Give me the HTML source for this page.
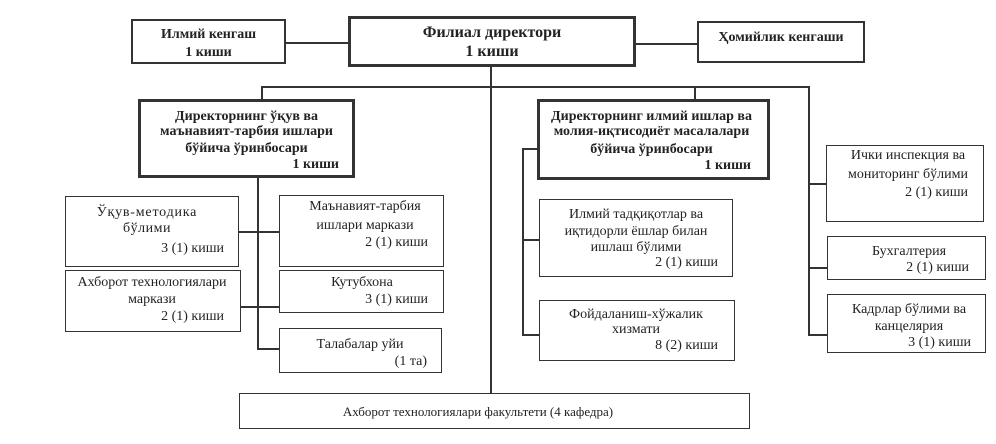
<!DOCTYPE html>
<html><head><meta charset="utf-8">
<style>
html,body{margin:0;padding:0}
body{width:996px;height:444px;background:#fff;position:relative;overflow:hidden;font-family:"Liberation Serif","DejaVu Serif",serif;color:#222}
.b{position:absolute;box-sizing:border-box;border:1.5px solid #333;background:#fff}
.t{position:absolute;line-height:16px;height:16px;white-space:nowrap;font-size:14px;text-align:center}
.r{text-align:right}
.bd{font-weight:bold}
.h{position:absolute;height:1.5px;background:#333}
.v{position:absolute;width:1.5px;background:#333}
</style></head><body>

<!-- connectors -->
<div class="h" style="left:286px;top:42px;width:62px"></div>
<div class="h" style="left:636px;top:43px;width:61px"></div>
<div class="v" style="left:490px;top:67px;height:326px"></div>
<div class="h" style="left:261px;top:86px;width:549px"></div>
<div class="v" style="left:261px;top:86px;height:13px"></div>
<div class="v" style="left:694px;top:86px;height:13px"></div>
<div class="v" style="left:808px;top:86px;height:250px"></div>
<div class="h" style="left:808px;top:183px;width:18px"></div>
<div class="h" style="left:808px;top:267px;width:19px"></div>
<div class="h" style="left:808px;top:334px;width:19px"></div>
<div class="v" style="left:522px;top:148px;height:188px"></div>
<div class="h" style="left:522px;top:148px;width:15px"></div>
<div class="h" style="left:522px;top:239px;width:17px"></div>
<div class="h" style="left:522px;top:334px;width:17px"></div>
<div class="v" style="left:257px;top:178px;height:172px"></div>
<div class="h" style="left:239px;top:231px;width:40px"></div>
<div class="h" style="left:241px;top:306px;width:38px"></div>
<div class="h" style="left:257px;top:348px;width:22px"></div>

<!-- top row -->
<div class="b" style="left:131px;top:19px;width:155px;height:45px;border-width:2px"></div>
<div class="t bd" style="left:131px;width:155px;top:27px">Илмий кенгаш</div>
<div class="t bd" style="left:131px;width:155px;top:45px">1 киши</div>

<div class="b" style="left:348px;top:16px;width:288px;height:51px;border-width:3px"></div>
<div class="t bd" style="left:348px;width:288px;top:25px;font-size:16px">Филиал директори</div>
<div class="t bd" style="left:348px;width:288px;top:44px;font-size:16px">1 киши</div>

<div class="b" style="left:697px;top:21px;width:168px;height:42px;border-width:2.5px"></div>
<div class="t bd" style="left:697px;width:168px;top:30px">Ҳомийлик кенгаши</div>

<!-- deputies -->
<div class="b" style="left:138px;top:99px;width:217px;height:79px;border-width:3px"></div>
<div class="t bd" style="left:138px;width:217px;top:109px">Директорнинг ўқув ва</div>
<div class="t bd" style="left:138px;width:217px;top:124px">маънавият-тарбия ишлари</div>
<div class="t bd" style="left:138px;width:217px;top:141px">бўйича ўринбосари</div>
<div class="t bd r" style="left:138px;width:201px;top:157px">1 киши</div>

<div class="b" style="left:537px;top:99px;width:233px;height:81px;border-width:3px"></div>
<div class="t bd" style="left:537px;width:229px;top:109px">Директорнинг илмий ишлар ва</div>
<div class="t bd" style="left:537px;width:229px;top:124px">молия-иқтисодиёт масалалари</div>
<div class="t bd" style="left:537px;width:229px;top:142px">бўйича ўринбосари</div>
<div class="t bd r" style="left:537px;width:214px;top:158px">1 киши</div>

<!-- right column -->
<div class="b" style="left:826px;top:145px;width:158px;height:77px"></div>
<div class="t" style="left:826px;width:164px;top:148px">Ички инспекция ва</div>
<div class="t" style="left:826px;width:164px;top:167px">мониторинг бўлими</div>
<div class="t r" style="left:826px;width:142px;top:185px">2 (1) киши</div>

<div class="b" style="left:827px;top:236px;width:159px;height:44px"></div>
<div class="t" style="left:827px;width:164px;top:244px">Бухгалтерия</div>
<div class="t r" style="left:827px;width:142px;top:260px">2 (1) киши</div>

<div class="b" style="left:827px;top:294px;width:159px;height:59px"></div>
<div class="t" style="left:827px;width:164px;top:302px">Кадрлар бўлими ва</div>
<div class="t" style="left:827px;width:164px;top:319px">канцелярия</div>
<div class="t r" style="left:827px;width:144px;top:335px">3 (1) киши</div>

<!-- middle-right column -->
<div class="b" style="left:539px;top:199px;width:194px;height:78px"></div>
<div class="t" style="left:539px;width:194px;top:207px">Илмий тадқиқотлар ва</div>
<div class="t" style="left:539px;width:194px;top:224px">иқтидорли ёшлар билан</div>
<div class="t" style="left:539px;width:194px;top:240px">ишлаш бўлими</div>
<div class="t r" style="left:539px;width:179px;top:255px">2 (1) киши</div>

<div class="b" style="left:539px;top:300px;width:196px;height:61px"></div>
<div class="t" style="left:539px;width:194px;top:307px">Фойдаланиш-хўжалик</div>
<div class="t" style="left:539px;width:194px;top:322px">хизмати</div>
<div class="t r" style="left:539px;width:179px;top:338px">8 (2) киши</div>

<!-- left group -->
<div class="b" style="left:65px;top:196px;width:174px;height:71px"></div>
<div class="t" style="left:65px;width:164px;top:205px;letter-spacing:0.8px">Ўқув-методика</div>
<div class="t" style="left:65px;width:164px;top:221px;letter-spacing:0.5px">бўлими</div>
<div class="t r" style="left:65px;width:159px;top:241px">3 (1) киши</div>

<div class="b" style="left:65px;top:270px;width:176px;height:62px"></div>
<div class="t" style="left:65px;width:174px;top:275px">Ахборот технологиялари</div>
<div class="t" style="left:65px;width:174px;top:292px">маркази</div>
<div class="t r" style="left:65px;width:159px;top:309px">2 (1) киши</div>

<div class="b" style="left:279px;top:195px;width:165px;height:72px"></div>
<div class="t" style="left:279px;width:172px;top:199px">Маънавият-тарбия</div>
<div class="t" style="left:279px;width:172px;top:218px">ишлари маркази</div>
<div class="t r" style="left:279px;width:149px;top:235px">2 (1) киши</div>

<div class="b" style="left:279px;top:270px;width:165px;height:43px"></div>
<div class="t" style="left:279px;width:166px;top:275px">Кутубхона</div>
<div class="t r" style="left:279px;width:149px;top:292px">3 (1) киши</div>

<div class="b" style="left:279px;top:328px;width:163px;height:45px"></div>
<div class="t" style="left:279px;width:162px;top:337px">Талабалар уйи</div>
<div class="t r" style="left:279px;width:148px;top:354px">(1 та)</div>

<!-- bottom -->
<div class="b" style="left:239px;top:393px;width:511px;height:36px"></div>
<div class="t" style="left:239px;width:478px;top:404px;font-size:13px">Ахборот технологиялари факультети (4 кафедра)</div>

</body></html>
